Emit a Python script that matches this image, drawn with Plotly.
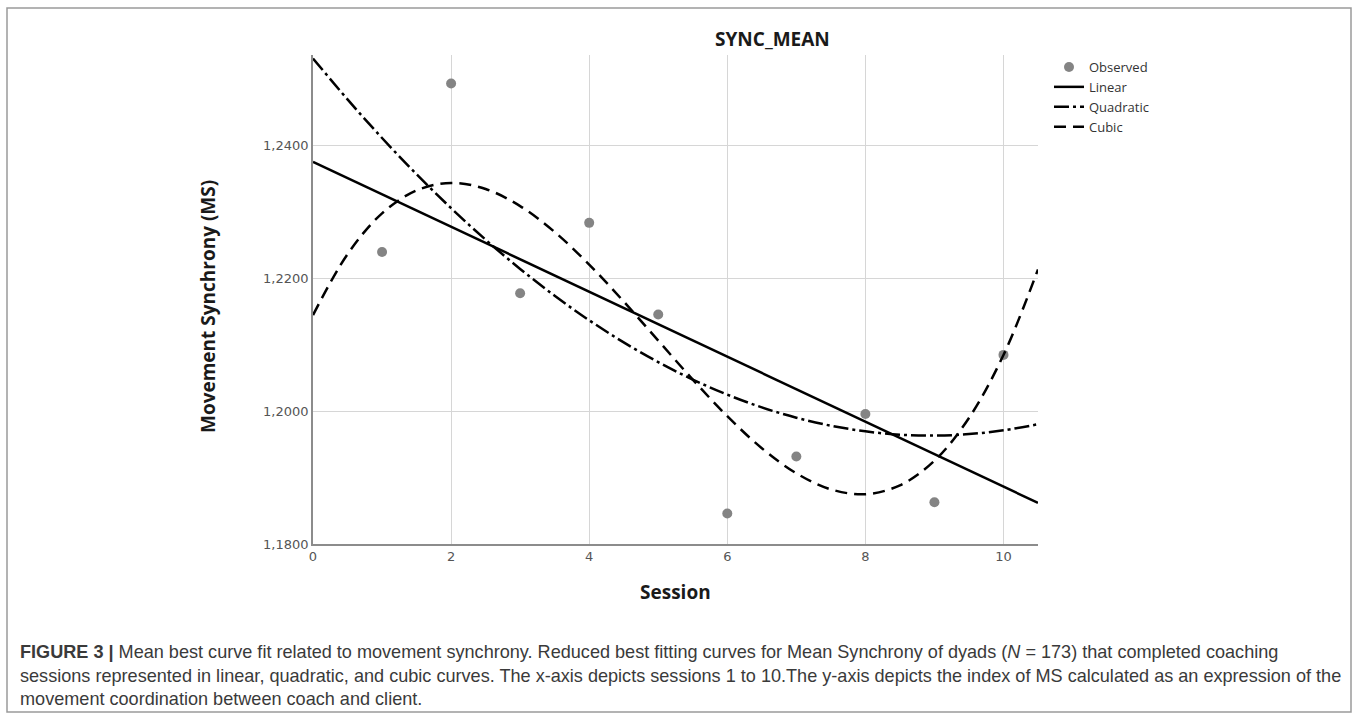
import plotly.graph_objects as go

# ---- data ----
sessions = [1, 2, 3, 4, 5, 6, 7, 8, 9, 10]
observed = [1.2240, 1.2494, 1.2178, 1.2284, 1.2146, 1.1846, 1.1932, 1.1996, 1.1863, 1.2085]

linear_x = [0, 10.5]
linear_y = [1.2376, 1.1862]

curve_x = [0, 0.5, 1, 1.5, 2, 2.5, 3, 3.5, 4, 4.5, 5, 5.5, 6, 6.5, 7, 7.5, 8, 8.5, 9, 9.5, 10, 10.5]
quadratic_y = [1.25318, 1.24701, 1.24119, 1.23572, 1.23062, 1.22586, 1.22146, 1.21741, 1.21372, 1.21039,
               1.20741, 1.20478, 1.20251, 1.20059, 1.19904, 1.19783, 1.19698, 1.19648, 1.19634, 1.19656,
               1.19713, 1.19805]
cubic_y = [1.21450, 1.22368, 1.22983, 1.23329, 1.23441, 1.23350, 1.23093, 1.22702, 1.22211, 1.21655,
           1.21066, 1.20478, 1.19926, 1.19444, 1.19066, 1.18823, 1.18751, 1.18884, 1.19255, 1.19899,
           1.20849, 1.22138]

x_tick_vals = [0, 2, 4, 6, 8, 10]
x_tick_text = ["0", "2", "4", "6", "8", "10"]
y_tick_vals = [1.18, 1.20, 1.22, 1.24]
y_tick_text = ["1,1800", "1,2000", "1,2200", "1,2400"]

chart_title = "SYNC_MEAN"
x_title = "Session"
y_title = "Movement Synchrony (MS)"
caption = ("<b>FIGURE 3 |</b> Mean best curve fit related to movement synchrony. Reduced best fitting curves for "
           "Mean Synchrony of dyads (<i>N</i> = 173) that completed coaching<br>"
           "sessions represented in linear, quadratic, and cubic curves. The x-axis depicts sessions 1 to 10.The "
           "y-axis depicts the index of MS calculated as an expression of the<br>"
           "movement coordination between coach and client.")

# ---- layout geometry (pixels) ----
W, H = 1358, 720
ML, MR, MT, MB = 313, 320, 55, 176
PW, PH = W - ML - MR, H - MT - MB


def px_x(p):
    return (p - ML) / PW


def px_y(p):
    return (H - MB - p) / PH


fig = go.Figure()

fig.add_trace(go.Scatter(
    x=sessions, y=observed, mode="markers", name="Observed",
    marker=dict(color="#848484", size=10, line=dict(width=0)),
))
fig.add_trace(go.Scatter(
    x=linear_x, y=linear_y, mode="lines", name="Linear",
    line=dict(color="black", width=2.5),
))
fig.add_trace(go.Scatter(
    x=curve_x, y=quadratic_y, mode="lines", name="Quadratic",
    line=dict(color="black", width=2.5, dash="15px,4px,3px,4px", shape="spline", smoothing=1),
))
fig.add_trace(go.Scatter(
    x=curve_x, y=cubic_y, mode="lines", name="Cubic",
    line=dict(color="black", width=2.5, dash="12px,7px", shape="spline", smoothing=1),
))

tick_font = dict(family="DejaVu Sans", size=13, color="#555555")

fig.update_xaxes(
    range=[0, 10.5], tickvals=x_tick_vals, ticktext=x_tick_text,
    showgrid=True, gridcolor="#d6d6d6", gridwidth=1.3,
    showline=True, linecolor="#8c8c8c", linewidth=1.6,
    zeroline=False, ticks="", tickfont=tick_font,
)
fig.update_yaxes(
    range=[1.18, 1.2537], tickvals=y_tick_vals, ticktext=y_tick_text,
    showgrid=True, gridcolor="#d6d6d6", gridwidth=1.3,
    showline=True, linecolor="#8c8c8c", linewidth=1.6,
    zeroline=False, ticks="", tickfont=tick_font,
)

axis_title_font = dict(family="Open Sans", size=19, color="#1a1a1a", weight="bold")

annotations = [
    dict(text=chart_title, x=px_x(772), y=px_y(39), xref="paper", yref="paper",
         xanchor="center", yanchor="middle", showarrow=False,
         font=dict(family="Open Sans", size=19, color="#1a1a1a", weight="bold")),
    dict(text=x_title, x=px_x(675), y=px_y(592), xref="paper", yref="paper",
         xanchor="center", yanchor="middle", showarrow=False, font=axis_title_font),
    dict(text=y_title, x=px_x(208), y=px_y(307), xref="paper", yref="paper",
         xanchor="center", yanchor="middle", showarrow=False, textangle=-90, font=axis_title_font),
    dict(text=caption, x=px_x(18), y=px_y(640), xref="paper", yref="paper",
         xanchor="left", yanchor="top", align="left", showarrow=False,
         font=dict(family="Liberation Sans", size=18.1, color="#3a3a3a")),
]

fig.update_layout(
    width=W, height=H,
    margin=dict(l=ML, r=MR, t=MT, b=MB),
    paper_bgcolor="white", plot_bgcolor="white",
    showlegend=True,
    legend=dict(x=px_x(1049), y=px_y(52), xanchor="left", yanchor="top",
                font=dict(family="Open Sans", size=13, color="#333333"),
                bgcolor="rgba(0,0,0,0)", borderwidth=0, tracegroupgap=0,
                itemwidth=30),
    annotations=annotations,
    shapes=[dict(type="rect", xref="paper", yref="paper",
                 x0=px_x(7), x1=px_x(1351), y0=px_y(712), y1=px_y(8),
                 line=dict(color="#9a9a9a", width=1.5))],
)

fig.write_html("out.html")
